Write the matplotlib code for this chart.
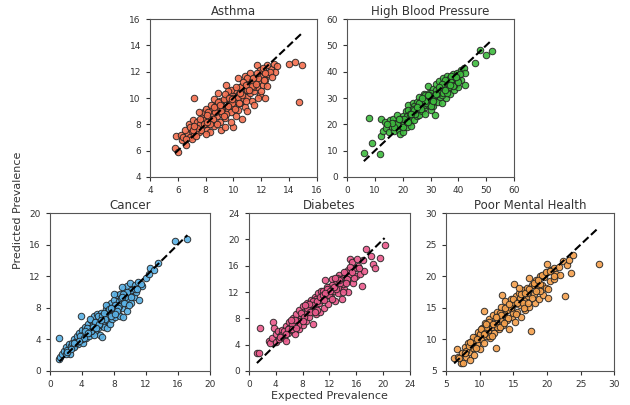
import matplotlib
matplotlib.use('Agg')
import matplotlib.pyplot as plt

# expected (x) vs predicted (y) prevalence
asthma_x = [5.8, 6.0, 5.9, 6.2, 6.3, 6.6, 6.4, 6.7, 6.5, 6.9, 7.0, 7.2, 6.8, 7.1, 7.3, 7.5, 7.4, 7.6, 7.8, 7.7,
            8.0, 7.9, 8.2, 8.1, 8.3, 8.4, 8.5, 8.6, 8.7, 8.8, 8.9, 9.0, 9.1, 9.2, 9.3, 9.1, 9.4, 9.5, 9.6, 9.7,
            9.8, 9.9, 10.0, 10.0, 10.1, 10.2, 10.3, 10.4, 10.5, 10.6, 10.7, 10.8, 10.9, 11.0, 11.1, 11.2, 11.3, 11.4, 11.5, 11.6,
            11.7, 11.8, 11.9, 12.0, 12.1, 12.2, 12.3, 12.4, 12.5, 12.7, 12.9, 13.1, 13.0, 12.4, 11.7, 14.0, 14.4, 14.9, 14.7, 7.2,
            8.9, 9.5, 9.8, 10.3, 10.8, 11.2, 8.0, 7.5, 8.6, 9.0, 9.6, 10.5, 11.0, 10.2, 9.4, 8.3, 7.0, 7.3, 8.0, 11.5,
            12.0, 12.3, 11.0, 10.6, 9.8, 8.8, 9.3, 10.0, 10.7, 11.3, 11.9,
            6.9, 7.4, 7.8, 8.2, 8.5, 8.8, 9.2, 9.5, 9.9, 10.3, 10.6, 11.0, 11.4, 11.8, 12.2, 12.6,
            7.1, 7.6, 8.1, 8.4, 8.7, 9.1, 9.4, 9.7, 10.1, 10.4, 10.9, 11.3, 11.7, 12.1,
            7.9, 8.3, 8.9, 9.3, 9.9, 10.5, 11.1, 11.6, 12.3, 12.8, 6.6, 7.2, 8.6, 9.6, 10.9, 11.4, 10.2, 9.0, 8.1, 11.8]
asthma_y = [6.2, 5.9, 7.1, 7.2, 6.8, 6.4, 7.0, 7.3, 7.6, 7.0, 7.5, 7.2, 8.0, 8.3, 7.8, 7.4, 8.2, 8.0, 8.6, 7.6,
            8.0, 8.9, 8.4, 7.6, 9.1, 8.2, 8.8, 7.9, 9.4, 8.6, 9.0, 8.2, 9.7, 8.8, 9.3, 7.6, 8.5, 10.0, 9.1, 9.6,
            8.9, 10.2, 9.4, 7.8, 10.6, 9.8, 9.1, 10.3, 9.6, 10.9, 10.0, 9.3, 10.6, 10.1, 11.2, 10.4, 9.8, 11.0, 10.5, 11.6,
            10.8, 11.3, 10.2, 11.7, 11.0, 12.0, 11.4, 10.9, 11.8, 12.2, 12.6, 12.4, 12.0, 12.5, 12.5, 12.6, 12.7, 12.5, 9.7, 10.0,
            10.4, 11.0, 10.6, 11.5, 11.7, 11.9, 9.2, 8.9, 9.9, 9.8, 10.5, 10.8, 11.5, 8.6, 7.8, 7.4, 6.9, 7.1, 7.3, 9.5,
            10.5, 10.0, 9.0, 8.4, 8.2, 8.0, 9.9, 10.0, 11.2, 11.3, 12.1,
            7.8, 7.7, 8.3, 8.9, 8.4, 9.2, 9.4, 8.8, 9.6, 10.1, 10.2, 10.6, 10.8, 11.5, 11.4, 12.0,
            7.6, 8.4, 8.7, 9.5, 8.9, 9.0, 10.3, 10.0, 9.2, 9.6, 11.0, 10.9, 11.9, 12.3,
            8.0, 8.0, 9.7, 8.6, 9.9, 10.4, 10.6, 11.1, 11.9, 11.6, 6.9, 7.9, 9.3, 9.4, 9.8, 11.5, 10.8, 9.5, 8.2, 10.0]

hbp_x = [6.0, 7.8, 9.0, 11.7, 12.0, 12.3, 13.0, 13.5, 14.0, 15.0, 15.5, 16.0, 16.5, 17.0, 17.5, 18.0, 18.5, 19.0, 19.0, 19.5,
         20.0, 20.0, 20.5, 21.0, 21.0, 21.5, 22.0, 22.0, 22.5, 23.0, 23.0, 23.5, 24.0, 24.0, 24.5, 25.0, 25.0, 25.5, 26.0, 26.0,
         26.5, 27.0, 27.0, 27.5, 28.0, 28.0, 28.5, 29.0, 29.0, 29.5, 30.0, 30.0, 30.5, 31.0, 31.0, 31.5, 32.0, 32.0, 32.5, 33.0,
         33.0, 33.5, 34.0, 34.0, 34.5, 35.0, 35.0, 35.5, 36.0, 36.0, 36.5, 37.0, 37.0, 37.5, 38.0, 38.0, 38.5, 39.0, 39.0, 39.5,
         40.0, 40.0, 41.0, 41.0, 42.0, 42.2, 42.5, 46.0, 47.8, 50.0, 52.0, 26.0, 24.0, 28.0, 30.0, 32.0, 34.0, 36.0, 22.0, 20.0,
         26.5, 29.5, 27.5, 35.0, 37.5, 33.5, 31.0, 23.0, 21.5, 18.0,
         19.0, 20.5, 21.5, 22.5, 23.5, 24.5, 25.5, 26.5, 27.5, 28.5, 29.5, 30.5, 31.5, 32.5, 33.5, 34.5, 35.5, 36.5, 37.5, 38.5,
         39.5, 40.5, 22.0, 24.0, 26.0, 28.0, 30.0, 32.0, 34.0, 36.0, 38.0, 40.0,
         23.0, 25.0, 27.0, 29.0, 31.0, 33.0, 35.0, 37.0, 39.0, 17.0, 18.5, 16.0, 14.5]
hbp_y = [9.2, 22.5, 13.0, 8.8, 15.5, 22.2, 17.5, 21.0, 18.5, 17.0, 21.8, 19.0, 22.0, 17.5, 20.5, 23.6, 18.0, 16.5, 21.0, 19.5,
         17.0, 23.0, 20.5, 25.0, 22.0, 19.0, 27.5, 23.5, 21.0, 25.0, 22.5, 28.0, 24.0, 21.5, 26.5, 23.0, 28.5, 25.5, 30.5, 23.5,
         27.0, 25.0, 29.0, 31.5, 26.5, 24.0, 30.0, 34.5, 27.5, 32.0, 29.0, 25.5, 31.0, 27.0, 33.5, 23.5, 30.0, 35.5, 28.5, 32.5,
         36.5, 30.5, 34.0, 28.0, 37.5, 32.0, 35.5, 30.0, 38.5, 33.5, 36.0, 31.5, 37.5, 34.5, 36.5, 39.0, 33.0, 37.5, 35.0, 39.5,
         38.0, 34.0, 40.5, 37.0, 41.5, 35.0, 39.5, 43.2, 48.3, 46.5, 47.7, 26.5, 27.0, 31.0, 32.0, 33.0, 31.0, 35.0, 25.5, 19.0,
         29.0, 29.5, 27.5, 37.0, 38.5, 34.0, 30.5, 19.5, 23.0, 20.0,
         22.0, 22.0, 21.0, 24.0, 26.0, 24.0, 27.0, 26.0, 29.0, 28.0, 31.0, 28.0, 31.0, 32.0, 33.0, 32.0, 34.0, 34.0, 36.0, 35.0,
         37.0, 39.0, 21.0, 25.5, 28.0, 29.0, 27.0, 31.5, 35.5, 32.0, 34.5, 36.0,
         24.0, 26.5, 30.0, 31.0, 29.0, 34.0, 33.0, 35.0, 38.0, 19.0, 22.0, 20.5, 20.0]

cancer_x = [1.2, 1.3, 1.5, 1.2, 1.8, 2.0, 2.2, 2.4, 2.6, 2.8, 3.0, 3.0, 3.2, 3.4, 3.5, 3.6, 3.8, 3.9, 4.0, 4.1,
            4.2, 4.4, 4.5, 4.6, 4.8, 4.9, 5.0, 5.2, 5.3, 5.4, 5.5, 5.6, 5.8, 5.9, 6.0, 6.2, 6.3, 6.4, 6.5, 6.6,
            6.7, 6.8, 7.0, 7.1, 7.2, 7.3, 7.4, 7.5, 7.6, 7.7, 7.8, 8.0, 8.0, 8.2, 8.3, 8.4, 8.5, 8.6, 8.8, 8.8,
            9.0, 9.1, 9.2, 9.3, 9.4, 9.5, 9.6, 9.7, 9.8, 10.0, 10.0, 10.2, 10.4, 10.5, 10.7, 10.8, 11.0, 11.2, 11.5, 12.0,
            12.4, 12.5, 13.0, 13.5, 15.7, 17.2, 5.0, 6.0, 7.0, 8.0, 9.0, 5.5, 4.0, 3.0, 2.5, 6.8, 7.8, 8.6, 9.4, 10.2,
            5.2, 6.2, 7.2,
            2.0, 2.6, 3.3, 3.8, 4.3, 4.7, 5.1, 5.6, 6.1, 6.5, 6.9, 7.3, 7.7, 8.1, 8.5, 8.9, 9.3, 9.7, 10.1, 10.6,
            3.6, 4.4, 5.4, 6.4, 7.4, 8.4, 9.2, 9.9, 4.8, 5.8, 6.8, 7.6, 8.2, 9.0, 11.4, 10.9, 3.0, 2.2]
cancer_y = [1.5, 1.8, 2.2, 4.2, 2.5, 3.0, 2.6, 3.4, 3.1, 3.6, 3.2, 4.0, 3.7, 4.4, 3.4, 4.8, 4.0, 7.0, 5.2, 3.6,
            4.6, 5.6, 4.2, 5.0, 6.0, 4.4, 5.4, 6.4, 4.8, 5.8, 6.9, 5.0, 6.2, 7.2, 5.4, 6.6, 4.6, 7.4, 4.3, 6.0,
            7.0, 5.6, 7.8, 6.4, 5.4, 8.2, 7.0, 6.0, 8.6, 7.4, 6.6, 9.0, 7.8, 6.8, 8.4, 9.6, 7.2, 8.8, 6.9, 9.8,
            8.0, 9.2, 6.8, 10.4, 8.6, 9.6, 7.6, 10.8, 9.0, 11.2, 9.8, 8.6, 10.4, 9.4, 10.9, 10.0, 11.3, 9.0, 10.8, 11.8,
            12.3, 13.0, 12.8, 13.7, 16.4, 16.7, 6.6, 7.0, 8.4, 9.8, 10.6, 4.6, 4.0, 3.0, 2.2, 6.8, 8.0, 8.2, 9.4, 10.2,
            5.0, 5.8, 7.2,
            2.2, 2.8, 3.6, 4.4, 4.2, 5.4, 5.0, 6.2, 6.0, 7.0, 6.6, 7.6, 7.0, 8.4, 8.0, 9.2, 8.6, 10.0, 9.4, 10.4,
            3.8, 5.0, 5.6, 6.4, 7.8, 7.6, 9.8, 8.4, 4.8, 5.4, 7.4, 8.0, 7.2, 9.4, 11.0, 10.4, 3.6, 2.4]

diab_x = [1.2, 1.5, 1.6, 3.0, 3.2, 3.5, 3.6, 3.8, 4.0, 4.0, 4.3, 4.5, 4.8, 5.0, 5.2, 5.5, 5.5, 5.8, 6.0, 6.2,
          6.5, 6.6, 6.8, 7.0, 7.2, 7.4, 7.5, 7.8, 8.0, 8.0, 8.3, 8.5, 8.6, 8.8, 9.0, 9.2, 9.4, 9.5, 9.8, 10.0,
          10.0, 10.3, 10.5, 10.6, 10.8, 11.0, 11.2, 11.4, 11.5, 11.8, 12.0, 12.2, 12.4, 12.6, 12.8, 13.0, 13.2, 13.4, 13.6, 13.8,
          14.0, 14.2, 14.4, 14.6, 14.8, 15.0, 15.0, 15.3, 15.5, 15.8, 16.0, 16.2, 16.5, 16.8, 17.0, 17.2, 17.5, 18.2, 18.5, 18.8,
          19.5, 20.2, 7.0, 8.0, 9.0, 10.0, 11.0, 12.0, 13.0, 14.0, 6.0, 5.0, 9.6, 10.8, 12.4, 13.6, 14.8, 11.6, 8.6, 7.6,
          6.4,
          5.2, 5.8, 6.4, 6.9, 7.3, 7.8, 8.2, 8.7, 9.1, 9.6, 10.1, 10.6, 11.1, 11.6, 12.1, 12.6, 13.1, 13.6, 14.1, 14.6,
          15.1, 15.6, 16.1, 6.2, 7.0, 8.0, 9.0, 10.2, 11.2, 12.4, 13.4, 14.4, 15.4,
          8.4, 9.8, 11.4, 12.8, 14.0, 16.4, 4.6, 5.6]
diab_y = [2.8, 2.7, 6.5, 4.6, 4.2, 5.0, 7.4, 6.5, 4.4, 5.6, 6.0, 4.8, 5.4, 6.2, 5.0, 4.5, 6.8, 5.8, 7.4, 6.2,
          8.0, 6.8, 5.6, 8.6, 7.4, 6.4, 9.2, 8.0, 7.0, 9.8, 8.6, 7.6, 10.4, 9.2, 8.2, 10.8, 9.6, 7.2, 11.2, 10.0,
          8.6, 11.8, 10.4, 9.0, 12.2, 11.0, 9.6, 13.8, 11.6, 10.2, 12.8, 11.2, 14.0, 12.2, 10.6, 13.4, 11.8, 14.6, 12.8, 11.0,
          14.2, 12.4, 15.0, 13.6, 12.0, 17.0, 14.8, 16.5, 13.4, 15.6, 14.4, 16.0, 14.8, 12.9, 16.8, 15.2, 18.6, 17.4, 16.2, 15.6,
          17.1, 19.1, 7.0, 8.6, 9.4, 11.0, 12.2, 11.6, 12.4, 13.2, 6.6, 5.4, 10.6, 10.8, 13.0, 14.0, 15.4, 12.8, 9.0, 7.6,
          7.2,
          6.0, 6.4, 6.4, 7.8, 7.0, 8.8, 8.2, 9.6, 9.0, 10.0, 10.6, 11.2, 11.6, 12.4, 12.2, 12.8, 14.2, 13.4, 15.0, 14.0,
          15.8, 14.2, 17.0, 7.8, 6.6, 7.6, 10.2, 9.2, 10.8, 11.0, 13.8, 13.4, 15.0,
          10.0, 9.0, 11.8, 14.2, 12.0, 15.6, 5.2, 5.6]

mental_x = [6.2, 6.6, 6.8, 7.2, 7.5, 7.4, 7.8, 8.0, 8.2, 8.4, 8.6, 8.8, 9.0, 9.2, 9.4, 9.6, 9.8, 10.0, 10.2, 10.4,
            10.6, 10.7, 10.8, 11.0, 11.2, 11.4, 11.6, 11.8, 12.0, 12.2, 12.4, 12.4, 12.6, 12.8, 13.0, 13.2, 13.3, 13.4, 13.6, 13.8,
            14.0, 14.2, 14.4, 14.6, 14.8, 15.0, 15.1, 15.2, 15.4, 15.6, 15.8, 16.0, 16.2, 16.4, 16.6, 16.8, 17.0, 17.2, 17.3, 17.4,
            17.6, 17.8, 18.0, 18.2, 18.4, 18.6, 18.8, 19.0, 19.2, 19.4, 19.6, 19.8, 20.0, 20.0, 20.2, 20.4, 20.6, 21.0, 21.0, 21.4,
            22.0, 22.4, 22.7, 23.0, 23.3, 23.6, 23.9, 27.7, 9.0, 10.0, 11.0, 12.0, 13.0, 14.0, 15.0, 16.0, 17.0, 18.0, 19.0, 11.4,
            12.6, 14.6, 16.4, 8.0, 7.0,
            7.8, 8.4, 9.0, 9.6, 10.2, 10.8, 11.4, 12.0, 12.6, 13.2, 13.8, 14.4, 15.0, 15.6, 16.2, 16.8, 17.4, 18.0, 18.6, 19.2,
            19.8, 20.4, 21.0, 9.4, 10.6, 11.8, 13.0, 14.2, 15.4, 16.6, 17.8, 19.0, 20.2,
            11.0, 12.4, 13.6, 15.8, 17.2, 18.4, 8.6, 21.8]
mental_y = [7.0, 8.4, 7.2, 6.3, 6.3, 7.8, 8.8, 7.2, 9.4, 8.0, 6.8, 9.8, 8.6, 7.6, 10.4, 9.2, 11.2, 8.4, 10.0, 11.8,
            9.4, 14.5, 12.6, 10.6, 11.4, 13.2, 10.2, 12.0, 13.8, 11.0, 8.7, 12.8, 14.4, 11.6, 13.2, 15.2, 17.0, 12.2, 14.0, 16.0,
            13.0, 14.8, 11.6, 16.4, 13.6, 15.4, 18.8, 12.8, 16.8, 14.4, 17.4, 15.4, 13.6, 17.8, 16.2, 14.6, 18.2, 16.8, 19.7, 15.2,
            11.3, 18.6, 17.2, 15.8, 19.4, 18.0, 16.4, 20.0, 18.6, 17.0, 19.8, 18.2, 22.0, 20.6, 16.6, 19.2, 21.0, 21.3, 19.6, 20.4,
            20.2, 22.4, 16.9, 21.7, 22.6, 20.5, 23.3, 22.0, 9.6, 10.8, 11.8, 12.4, 14.2, 14.6, 14.2, 16.6, 17.4, 18.6, 18.8, 10.6,
            12.0, 15.0, 15.8, 8.2, 7.0,
            7.8, 9.0, 10.4, 10.0, 11.6, 11.0, 12.8, 12.4, 13.6, 13.8, 15.0, 15.6, 16.4, 15.8, 17.2, 17.4, 18.0, 19.0, 19.4, 20.2,
            20.6, 20.8, 20.0, 8.6, 10.8, 10.6, 12.0, 13.4, 14.0, 15.0, 16.6, 17.6, 18.0,
            12.4, 13.6, 12.6, 18.2, 15.8, 17.6, 9.6, 21.4]

panels = [
    ('Asthma', asthma_x, asthma_y, '#f46f4f', (4, 16), range(4, 17, 2)),
    ('High Blood Pressure', hbp_x, hbp_y, '#3dbb3d', (0, 60), range(0, 61, 10)),
    ('Cancer', cancer_x, cancer_y, '#5ab2e6', (0, 20), range(0, 21, 4)),
    ('Diabetes', diab_x, diab_y, '#ea5a8c', (0, 24), range(0, 25, 4)),
    ('Poor Mental Health', mental_x, mental_y, '#f4a04c', (5, 30), range(5, 31, 5)),
]

# axes boxes in figure fractions [left, bottom, width, height]
boxes = [
    [0.238, 0.563, 0.265, 0.390],
    [0.551, 0.563, 0.265, 0.390],
    [0.079, 0.084, 0.254, 0.390],
    [0.395, 0.084, 0.256, 0.390],
    [0.708, 0.084, 0.267, 0.390],
]

fig = plt.figure(figsize=(6.3, 4.05), dpi=100)

for (title, xs, ys, color, lims, ticks), box in zip(panels, boxes):
    ax = fig.add_axes(box)
    ax.scatter(xs, ys, s=22, c=color, edgecolors='#222222', linewidths=0.7, alpha=0.9, zorder=2)
    lo, hi = min(xs), max(xs)
    ax.plot([lo, hi], [lo, hi], 'k--', lw=1.5, zorder=3)
    ax.set_xlim(lims)
    ax.set_ylim(lims)
    ax.set_xticks(list(ticks))
    ax.set_yticks(list(ticks))
    ax.tick_params(labelsize=6.5, length=3, width=0.8, colors='#333333')
    for sp in ax.spines.values():
        sp.set_linewidth(0.8)
        sp.set_color('#555555')
    ax.set_title(title, fontsize=8.5, pad=3, color='#333333')

fig.text(0.029, 0.48, 'Predicted Prevalence', rotation=90, ha='center', va='center', fontsize=8, color='#333333')
fig.text(0.523, 0.022, 'Expected Prevalence', ha='center', va='center', fontsize=8, color='#333333')

fig.savefig('out.png', dpi=100)
